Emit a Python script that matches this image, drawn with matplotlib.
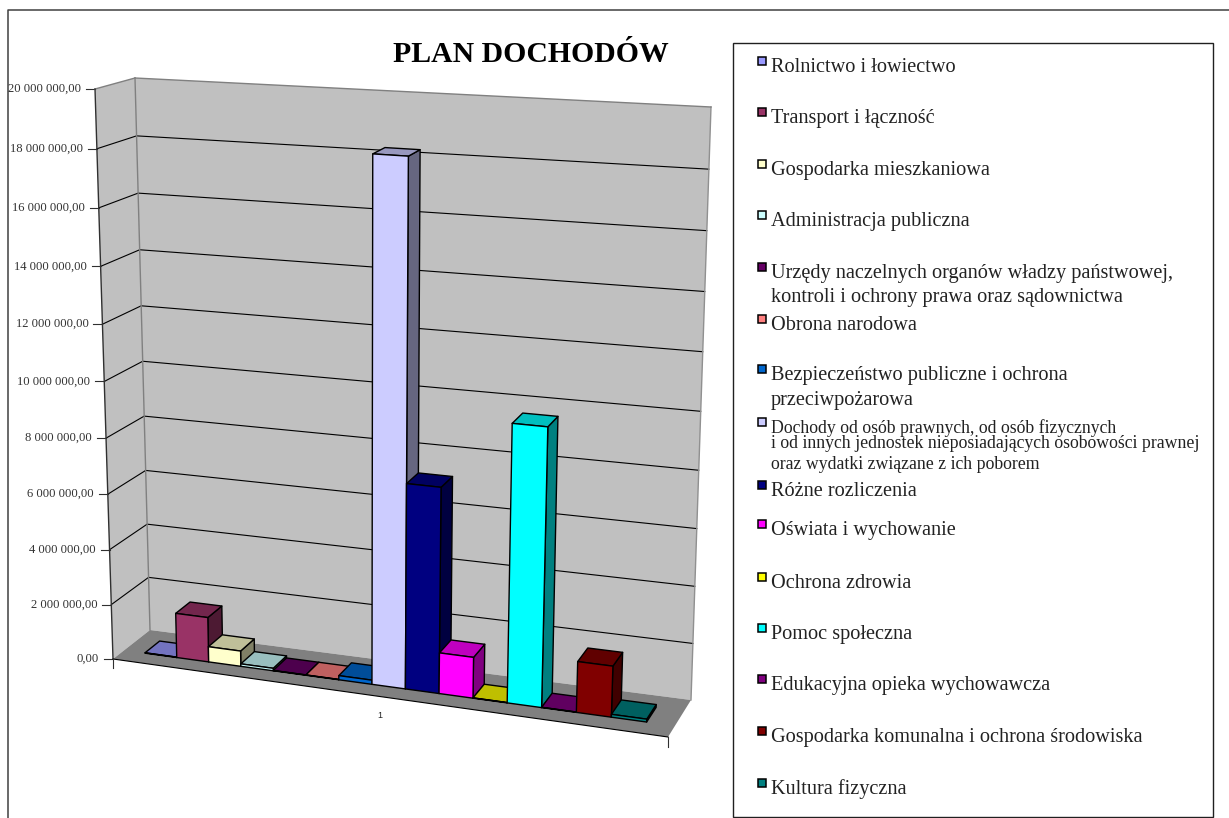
import matplotlib
matplotlib.use('Agg')
import matplotlib.pyplot as plt
import numpy as np
from matplotlib.patches import Polygon, Rectangle

# plan values
categories = ['Rolnictwo i łowiectwo', 'Transport i łączność', 'Gospodarka mieszkaniowa',
              'Administracja publiczna', 'Urzędy naczelnych organów władzy państwowej,',
              'Obrona narodowa', 'Bezpieczeństwo publiczne i ochrona', 'Dochody od osób prawnych, od osób fizycznych',
              'Różne rozliczenia', 'Oświata i wychowanie', 'Ochrona zdrowia', 'Pomoc społeczna',
              'Edukacyjna opieka wychowawcza', 'Gospodarka komunalna i ochrona środowiska', 'Kultura fizyczna']
values = [15000, 1630000, 560000, 90000, 12000, 12000, 150000, 18270000,
          7250000, 1450000, 12000, 9680000, 12000, 1780000, 100000]
colors = ['#9999FF', '#993366', '#FFFFCC', '#CCFFFF', '#660066', '#FF8080', '#0066CC', '#CCCCFF',
          '#000080', '#FF00FF', '#FFFF00', '#00FFFF', '#800080', '#800000', '#008080']
yticks = [0, 2000000, 4000000, 6000000, 8000000, 10000000, 12000000, 14000000, 16000000, 18000000, 20000000]
ytick_labels = ['0,00', '2 000 000,00', '4 000 000,00', '6 000 000,00', '8 000 000,00', '10 000 000,00',
                '12 000 000,00', '14 000 000,00', '16 000 000,00', '18 000 000,00', '20 000 000,00']
xtick_label = '1'

# second lines of the long legend entries
extra_lines = {4: ['kontroli i ochrony prawa oraz sądownictwa'],
               6: ['przeciwpożarowa'],
               7: ['i od innych jednostek nieposiadających osobowości prawnej',
                   'oraz wydatki związane z ich poborem']}

# legend layout, pixels
legend_y = [66, 117, 169, 220, 272, 324, 374, 427, 490, 529, 582, 633, 684, 736, 788]
extra_y = {4: [296], 6: [399], 7: [442, 463]}

# the 3d box in image pixels: (across, depth, height)
corners = {(0, 0, 0): (113, 659), (1, 0, 0): (668, 737), (0, 1, 0): (150, 630), (1, 1, 0): (691, 700),
           (0, 0, 1): (95, 89), (1, 0, 1): (692, 125), (0, 1, 1): (135, 78), (1, 1, 1): (711, 107)}
zmax = 20000000
persp_z = 1.054
persp_u = 1.065


def project(u, d, z):
    t = z / zmax
    t = t / (t + (1 - t) * persp_z)
    s = u / (u + (1 - u) * persp_u)
    p = np.zeros(2)
    for (a, b, c), xy in corners.items():
        w = (s if a else 1 - s) * (d if b else 1 - d) * (t if c else 1 - t)
        p += w * np.array(xy)
    return p


def face(ax, pts, color, ec='black', lw=1.0, z=2):
    ax.add_patch(Polygon([project(*q) for q in pts], closed=True, fc=color, ec=ec, lw=lw, joinstyle='round', zorder=z))


def shade(color, k):
    rgb = np.array(matplotlib.colors.to_rgb(color))
    return tuple(rgb * k)


fig = plt.figure(figsize=(12.29, 8.18), dpi=100)
ax = fig.add_axes([0, 0, 1, 1])
ax.set_xlim(0, 1229)
ax.set_ylim(818, 0)
ax.axis('off')

serif = 'Liberation Serif'

# outer frame and legend box
ax.plot([8, 8, 1229], [818, 10, 10], color='#404040', lw=1.1, zorder=1)
ax.add_patch(Rectangle((733, 43), 480, 774, fc='white', ec='#202020', lw=1.0, zorder=1))

ax.text(531, 55, 'PLAN DOCHODÓW', family=serif, weight='bold', fontsize=21.4, ha='center', va='center')

# walls and floor
face(ax, [(0, 0, 0), (0, 1, 0), (0, 1, zmax), (0, 0, zmax)], '#C0C0C0', ec='none', z=1)
face(ax, [(0, 1, 0), (1, 1, 0), (1, 1, zmax), (0, 1, zmax)], '#C0C0C0', ec='none', z=1)
face(ax, [(0, 0, 0), (1, 0, 0), (1, 1, 0), (0, 1, 0)], '#808080', ec='none', z=1)

for v, lab in zip(yticks, ytick_labels):
    a, b, c = project(0, 0, v), project(0, 1, v), project(1, 1, v)
    if 0 < v < zmax:
        ax.plot([a[0], b[0], c[0]], [a[1], b[1], c[1]], color='black', lw=0.8, zorder=1.5)
    ax.plot([a[0] - 9, a[0]], [a[1], a[1]], color='#303030', lw=0.8, zorder=1.5)
    ax.text(a[0] - 14, a[1], lab, family=serif, fontsize=9.1, color='#333333', ha='right', va='center')

# wall edges
for p, q, col in [((0, 1, 0), (0, 1, zmax), '#808080'), ((1, 1, 0), (1, 1, zmax), '#909090'),
                  ((0, 0, zmax), (0, 1, zmax), '#808080'), ((0, 1, zmax), (1, 1, zmax), '#808080'),
                  ((0, 0, 0), (0, 0, zmax), '#303030')]:
    a, b = project(*p), project(*q)
    ax.plot([a[0], b[0]], [a[1], b[1]], color=col, lw=1.0, zorder=1.6)

# front edge of the floor with its end marks
a, b = project(0, 0, 0), project(1, 0, 0)
ax.plot([a[0], b[0]], [a[1], b[1]], color='black', lw=0.8, zorder=1.6)
ax.plot([a[0], a[0]], [a[1], a[1] + 9], color='#303030', lw=0.8, zorder=1.6)
ax.plot([b[0], b[0]], [b[1], b[1] + 10], color='#303030', lw=0.8, zorder=1.6)
ax.text(380, 716, xtick_label, family='Liberation Sans', fontsize=6.5, color='#222222', ha='center', va='center')

# bars
u0, w = 0.0404, 0.06075
d0, d1 = 0.3, 0.7
for i, (v, col) in enumerate(zip(values, colors)):
    ul, ur = u0 + i * w, u0 + (i + 1) * w
    z = 2 + i * 0.01
    face(ax, [(ur, d0, 0), (ur, d1, 0), (ur, d1, v), (ur, d0, v)], shade(col, 0.5), z=z)
    face(ax, [(ul, d0, v), (ur, d0, v), (ur, d1, v), (ul, d1, v)], shade(col, 0.75), z=z)
    face(ax, [(ul, d0, 0), (ur, d0, 0), (ur, d0, v), (ul, d0, v)], col, z=z)

# legend
for i, (name, col, y) in enumerate(zip(categories, colors, legend_y)):
    size = 12.75 if i == 7 else 14.6
    ax.add_patch(Rectangle((758, y - 9), 7.5, 7.5, fc=col, ec='black', lw=1.1, zorder=3))
    ax.text(771, y + 1.5, name, family=serif, fontsize=size, color='#222222', ha='left', va='center')
    for line, ly in zip(extra_lines.get(i, []), extra_y.get(i, [])):
        ax.text(771, ly + 1.5, line, family=serif, fontsize=size, color='#222222', ha='left', va='center')

fig.savefig('out.png', dpi=100)
